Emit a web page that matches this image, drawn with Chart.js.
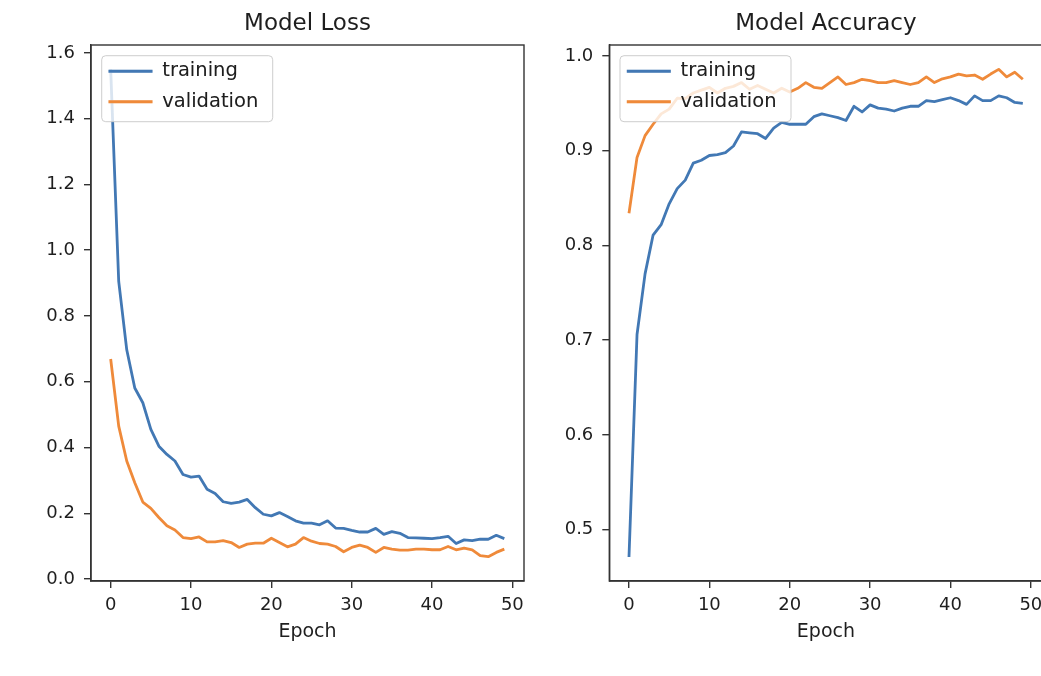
<!DOCTYPE html>
<html><head><meta charset="utf-8">
<script src="https://cdn.jsdelivr.net/npm/chart.js@4.4.1/dist/chart.umd.min.js"></script>
<style>
html,body{margin:0;padding:0;background:#fff;overflow:hidden;width:1041px;height:676px;position:relative;}
#c1{position:absolute;left:0;top:0;}
#c2{position:absolute;left:560px;top:0;}
</style></head><body>
<canvas id="c1" width="560" height="676"></canvas>
<canvas id="c2" width="500" height="676"></canvas>
<script>
const epochs = [0,1,2,3,4,5,6,7,8,9,10,11,12,13,14,15,16,17,18,19,20,21,22,23,24,25,26,27,28,29,30,31,32,33,34,35,36,37,38,39,40,41,42,43,44,45,46,47,48,49];
const trainLoss = [1.55,0.905,0.697,0.581,0.536,0.455,0.404,0.379,0.359,0.318,0.310,0.313,0.273,0.260,0.235,0.230,0.234,0.242,0.217,0.197,0.192,0.202,0.190,0.177,0.170,0.170,0.165,0.177,0.155,0.154,0.148,0.143,0.143,0.154,0.136,0.144,0.139,0.126,0.125,0.124,0.123,0.126,0.130,0.108,0.119,0.117,0.121,0.121,0.133,0.123];
const valLoss = [0.669,0.465,0.359,0.293,0.234,0.215,0.187,0.162,0.149,0.126,0.123,0.128,0.113,0.113,0.117,0.111,0.096,0.106,0.109,0.109,0.124,0.111,0.098,0.106,0.126,0.115,0.108,0.106,0.099,0.083,0.096,0.103,0.096,0.081,0.096,0.091,0.088,0.088,0.091,0.091,0.089,0.089,0.099,0.089,0.094,0.089,0.071,0.068,0.081,0.091];
const trainAcc = [0.471,0.706,0.770,0.811,0.822,0.844,0.860,0.869,0.887,0.890,0.895,0.896,0.898,0.905,0.920,0.919,0.918,0.913,0.924,0.930,0.928,0.928,0.928,0.936,0.939,0.937,0.935,0.932,0.947,0.941,0.9485,0.945,0.944,0.942,0.945,0.947,0.947,0.953,0.952,0.954,0.956,0.953,0.949,0.958,0.953,0.953,0.958,0.956,0.951,0.950];
const valAcc = [0.834,0.893,0.916,0.928,0.939,0.944,0.9555,0.955,0.961,0.964,0.967,0.961,0.966,0.968,0.972,0.965,0.969,0.965,0.961,0.966,0.962,0.966,0.972,0.967,0.966,0.972,0.978,0.970,0.972,0.9755,0.974,0.972,0.972,0.974,0.972,0.970,0.972,0.978,0.972,0.976,0.978,0.981,0.979,0.980,0.9755,0.981,0.986,0.978,0.983,0.9755];
const epochTicks = [0,10,20,30,40,50];
const lossTicks = [0.0,0.2,0.4,0.6,0.8,1.0,1.2,1.4,1.6];
const accTicks = [0.5,0.6,0.7,0.8,0.9,1.0];
const seriesNames = ['training','validation'];
const chartTitles = ['Model Loss','Model Accuracy'];
const xTitle = 'Epoch';

const BLUE = '#4278b4';
const ORANGE = '#ef8a3a';
const TEXT = '#1e1e1e';
const AX = '#333333';
Chart.defaults.font.family = "'DejaVu Sans', sans-serif";

const framePlugin = {
  id: 'frame',
  afterLayout(chart) {
    const lg = chart.legend, ca = chart.chartArea;
    if (!lg) return;
    const w = lg.width, h = lg.height;
    lg.left = ca.left + 6.5; lg.top = ca.top + 5.5;
    lg.right = lg.left + w; lg.bottom = lg.top + h;
  },
  afterDatasetsDraw(chart) {
    const {ctx, chartArea: ca} = chart;
    ctx.save();
    const bx = ca.left + 10.7, by = ca.top + 10.7, bw = 171, bh = 66, r = 4;
    ctx.beginPath();
    ctx.moveTo(bx + r, by);
    ctx.arcTo(bx + bw, by, bx + bw, by + bh, r);
    ctx.arcTo(bx + bw, by + bh, bx, by + bh, r);
    ctx.arcTo(bx, by + bh, bx, by, r);
    ctx.arcTo(bx, by, bx + bw, by, r);
    ctx.closePath();
    ctx.fillStyle = 'rgba(255,255,255,0.8)';
    ctx.fill();
    ctx.strokeStyle = 'rgba(200,200,200,0.9)';
    ctx.lineWidth = 1;
    ctx.stroke();
    ctx.restore();
    if (chart.legend) chart.legend.draw();
    ctx.save();
    ctx.strokeStyle = AX; ctx.lineWidth = 1.4;
    ctx.strokeRect(ca.left, ca.top, ca.right - ca.left, ca.bottom - ca.top);
    ctx.restore();
  }
};

function makeChart(id, trainVals, valVals, yTicks, yMin, yMax, title, axisW, padRight) {
  const pts = vals => epochs.map((e, i) => ({x: e, y: vals[i]}));
  const ds = (label, vals, col) => ({label, data: pts(vals), borderColor: col, backgroundColor: col,
    borderWidth: 2.8, pointRadius: 0, tension: 0, borderJoinStyle: 'round', fill: false});
  const gridOpts = {display: true, drawOnChartArea: false, drawTicks: true, tickLength: 7, color: AX, lineWidth: 1.4};
  return new Chart(document.getElementById(id), {
    type: 'line',
    data: {datasets: [ds(seriesNames[0], trainVals, BLUE), ds(seriesNames[1], valVals, ORANGE)]},
    options: {
      responsive: false, animation: false, devicePixelRatio: 1,
      events: [],
      layout: {padding: {left: 0, right: padRight, top: 0, bottom: 0}},
      plugins: {
        title: {display: true, text: title, fullSize: false, color: TEXT,
          font: {size: 23, weight: 'normal'}, padding: {top: 10.5, bottom: 6.9}},
        legend: {display: true, position: 'chartArea', align: 'start',
          labels: {boxWidth: 44, boxHeight: 3, padding: 11, color: TEXT, font: {size: 19.5},
            generateLabels: c => Chart.defaults.plugins.legend.labels.generateLabels(c).map(l => Object.assign(l, {lineWidth: 0}))}},
        tooltip: {enabled: false}
      },
      scales: {
        x: {type: 'linear', min: -2.45, max: 51.45,
          afterBuildTicks: s => { s.ticks = epochTicks.map(v => ({value: v})); },
          afterFit: s => { s.height = 95; },
          ticks: {font: {size: 18}, color: TEXT, padding: 7, maxRotation: 0, autoSkip: false},
          grid: gridOpts, border: {display: true, color: AX, width: 1.4},
          title: {display: true, text: xTitle, color: TEXT, font: {size: 19}, padding: {top: 0, bottom: 33}}},
        y: {type: 'linear', min: yMin, max: yMax,
          afterBuildTicks: s => { s.ticks = yTicks.map(v => ({value: v})); },
          afterFit: s => { s.width = axisW; },
          ticks: {font: {size: 18}, color: TEXT, padding: 9, callback: v => Number(v).toFixed(1)},
          grid: gridOpts, border: {display: true, color: AX, width: 1.4}}
      }
    },
    plugins: [framePlugin]
  });
}

makeChart('c1', trainLoss, valLoss, lossTicks, -0.006, 1.624, chartTitles[0], 91, 36);
makeChart('c2', trainAcc, valAcc, accTicks, 0.4457, 1.0117, chartTitles[1], 49.3, 17.5);
</script>
</body></html>
